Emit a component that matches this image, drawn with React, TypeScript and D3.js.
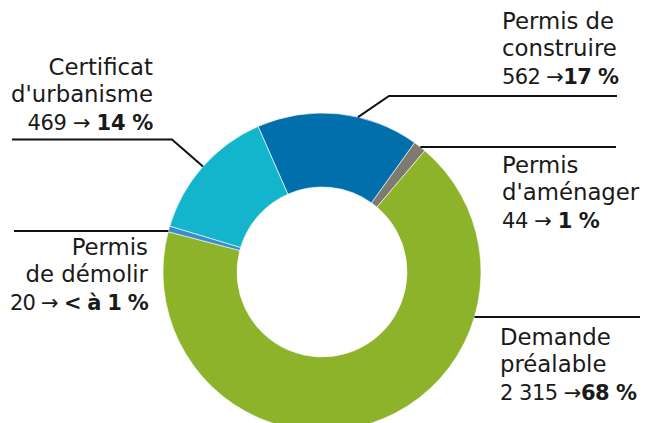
import React from "react";
import * as d3 from "d3";

const categories = ["Permis de construire", "Permis d'aménager", "Demande préalable", "Permis de démolir", "Certificat d'urbanisme"];
const values = [562, 44, 2315, 20, 469];
const percentLabels = ["17 %", "1 %", "68 %", "< à 1 %", "14 %"];
const valueLabels = ["562", "44", "2 315", "20", "469"];
const nameLines = [["Permis de", "construire"], ["Permis", "d'aménager"], ["Demande", "préalable"], ["Permis", "de démolir"], ["Certificat", "d'urbanisme"]];
const colors = ["#006fab", "#7f7a70", "#8cb32a", "#3b8bcf", "#12b5cb"];

const W = 646, H = 423;
const cx = 322, cy = 272, R = 159, r0 = 85;
const startDeg = -23.7;

const layout = [
  { tx: 502, ty: 29, anchor: "start", arrow: " →", ls: -0.6, lineY: 96, lineFrom: 389, lineTo: 617, frac: 0.62 },
  { tx: 502, ty: 173, anchor: "start", arrow: " → ", ls: -0.4, lineY: 147, lineFrom: null, lineTo: 616, frac: 0.5 },
  { tx: 500, ty: 345, anchor: "start", arrow: " →", ls: -0.5, lineY: 317, lineFrom: null, lineTo: 640, frac: 0.5 },
  { tx: 148, ty: 255, anchor: "end", arrow: " → ", ls: -0.75, lineY: 231, lineFrom: null, lineTo: 14, frac: 0.5 },
  { tx: 153, ty: 75, anchor: "end", arrow: " → ", ls: -0.3, lineY: 139.5, lineFrom: 172, lineTo: 12, frac: 0.5 },
];

export default function App() {
  const pie = d3.pie<number>().sort(null).value((d) => d)
    .startAngle((startDeg * Math.PI) / 180)
    .endAngle((startDeg * Math.PI) / 180 + 2 * Math.PI);
  const arcs = pie(values);
  const arc = d3.arc<d3.PieArcDatum<number>>().innerRadius(r0).outerRadius(R);
  const lineH = 27.3;

  return (
    <div style={{ position: "absolute", left: 0, top: 0 }}>
      <svg width={W} height={H} style={{ display: "block" }} fontFamily="'DejaVu Sans', sans-serif">
        <rect width={W} height={H} fill="#fff" />
        <g transform={`translate(${cx},${cy})`}>
          {arcs.map((a, i) => (
            <path key={i} d={arc(a) || ""} fill={colors[i]} stroke="#fff" strokeWidth={0.6} />
          ))}
        </g>
        {arcs.map((a, i) => {
          const L = layout[i];
          let pts: [number, number][];
          if (L.lineFrom !== null) {
            const ang = a.startAngle + (a.endAngle - a.startAngle) * L.frac;
            const ax = cx + R * Math.sin(ang);
            const ay = cy - R * Math.cos(ang);
            pts = [[L.lineTo, L.lineY], [L.lineFrom, L.lineY], [ax, ay]];
          } else {
            const dy = L.lineY - cy;
            const dx = Math.sqrt(Math.max(0, R * R - dy * dy));
            const ax = L.anchor === "start" ? cx + dx : cx - dx;
            pts = [[L.lineTo, L.lineY], [ax, L.lineY]];
          }
          return (
            <polyline key={"l" + i} points={pts.map((p) => p.join(",")).join(" ")} fill="none" stroke="#111" strokeWidth={2} />
          );
        })}
        {arcs.map((a, i) => {
          const L = layout[i];
          return (
            <g key={"t" + i} fill="#1a1a1a">
              <text x={L.tx} y={L.ty} textAnchor={L.anchor as any} fontSize={22.8}>{nameLines[i][0]}</text>
              <text x={L.tx} y={L.ty + lineH} textAnchor={L.anchor as any} fontSize={22.8}>{nameLines[i][1]}</text>
              <text x={L.tx} y={L.ty + 2 * lineH} textAnchor={L.anchor as any} fontSize={21} letterSpacing={L.ls}>
                <tspan>{valueLabels[i] + L.arrow}</tspan>
                <tspan fontWeight="bold">{percentLabels[i]}</tspan>
              </text>
            </g>
          );
        })}
      </svg>
    </div>
  );
}
